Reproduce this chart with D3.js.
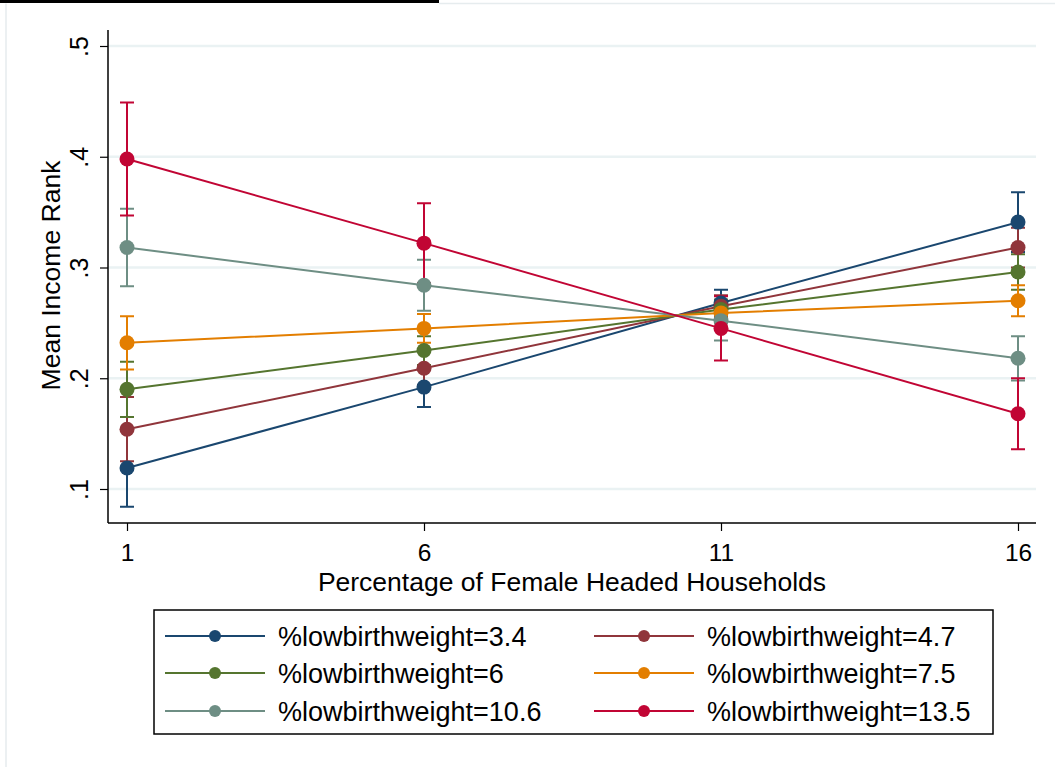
<!DOCTYPE html>
<html>
<head>
<meta charset="utf-8">
<script src="https://cdn.jsdelivr.net/npm/d3@7"></script>
<style>
  body { margin: 0; background: #ffffff; }
  svg { display: block; font-family: "Liberation Sans", Arial, Helvetica, sans-serif; }
</style>
</head>
<body>
<svg id="chart" width="1055" height="767"></svg>
<script>
// margins plot: mean income rank by % female headed households

// x positions (percentage of female headed households)
var femaleHH = [1, 6, 11, 16];

// series labels
var seriesLabels = [
    "%lowbirthweight=3.4",
    "%lowbirthweight=4.7",
    "%lowbirthweight=6",
    "%lowbirthweight=7.5",
    "%lowbirthweight=10.6",
    "%lowbirthweight=13.5"
];

// predicted means, one array per series
var lbw34  = [0.119, 0.192, 0.268, 0.341];
var lbw47  = [0.154, 0.209, 0.265, 0.318];
var lbw6   = [0.190, 0.225, 0.262, 0.296];
var lbw75  = [0.232, 0.245, 0.259, 0.270];
var lbw106 = [0.318, 0.284, 0.252, 0.218];
var lbw135 = [0.398, 0.322, 0.245, 0.168];

// 95% CI half widths
var ci34  = [0.035, 0.018, 0.012, 0.027];
var ci47  = [0.029, 0.015, 0.010, 0.018];
var ci6   = [0.025, 0.013, 0.009, 0.016];
var ci75  = [0.024, 0.013, 0.009, 0.014];
var ci106 = [0.035, 0.023, 0.018, 0.020];
var ci135 = [0.051, 0.036, 0.029, 0.032];

// tick labels
var yTicks = [0.1, 0.2, 0.3, 0.4, 0.5];
var yTickLabels = [".1", ".2", ".3", ".4", ".5"];
var xTicks = [1, 6, 11, 16];

var colors = ["#1a476f", "#90353b", "#55752f", "#e37e00", "#6e8e84", "#c10534"];

var means = [lbw34, lbw47, lbw6, lbw75, lbw106, lbw135];
var cis = [ci34, ci47, ci6, ci75, ci106, ci135];

var series = seriesLabels.map(function(label, i) {
    return {
        label: label,
        color: colors[i],
        pts: femaleHH.map(function(x, j) {
            return { x: x, y: means[i][j], lo: means[i][j] - cis[i][j], hi: means[i][j] + cis[i][j] };
        })
    };
});

var svg = d3.select("#chart");

// plot region
var plot = { left: 108, right: 1036, top: 30, bottom: 523 };

// SCALES
var x = d3.scaleLinear().domain([1, 16]).range([127, 1018]);
var y = d3.scaleLinear().domain([0.1, 0.5]).range([489, 46]);

// outer frame (cropped graph region)
svg.append("rect")
    .attr("x", 0).attr("y", 0)
    .attr("width", 439).attr("height", 3)
    .attr("fill", "#000");
svg.append("path")
    .attr("d", "M439,3.5H1055M6,3.5V767")
    .attr("stroke", "#e6ecee")
    .attr("stroke-width", 1.5)
    .attr("fill", "none");

// GRID
svg.append("g").selectAll("line")
    .data(yTicks)
    .enter().append("line")
    .attr("x1", plot.left).attr("x2", plot.right)
    .attr("y1", d => y(d)).attr("y2", d => y(d))
    .attr("stroke", "#eaf2f3")
    .attr("stroke-width", 2.5);

// AXES
var yAxis = svg.append("g")
    .attr("transform", "translate(" + plot.left + ",0)")
    .call(d3.axisLeft(y).tickValues(yTicks).tickSize(8).tickFormat((d, i) => yTickLabels[i]));
yAxis.select(".domain").attr("d", "M0," + plot.top + "V" + plot.bottom).attr("stroke", "#000").attr("stroke-width", 1.5);
yAxis.selectAll(".tick line").attr("stroke", "#000").attr("stroke-width", 1.2);
yAxis.selectAll(".tick text")
    .attr("font-size", 25)
    .attr("fill", "#000")
    .attr("x", null).attr("dy", null)
    .attr("text-anchor", "middle")
    .attr("transform", "translate(-20,0) rotate(-90)");

var xAxis = svg.append("g")
    .attr("transform", "translate(0," + plot.bottom + ")")
    .call(d3.axisBottom(x).tickValues(xTicks).tickSize(8).tickFormat(d3.format("d")));
xAxis.select(".domain").attr("d", "M" + plot.left + ",0H" + plot.right).attr("stroke", "#000").attr("stroke-width", 1.5);
xAxis.selectAll(".tick line").attr("stroke", "#000").attr("stroke-width", 1.2);
xAxis.selectAll(".tick text")
    .attr("font-size", 24.5)
    .attr("fill", "#000")
    .attr("y", 38).attr("dy", null);

// axis titles
svg.append("text")
    .attr("transform", "translate(60," + ((plot.top + plot.bottom) / 2 - 1) + ") rotate(-90)")
    .attr("text-anchor", "middle")
    .attr("font-size", 26.5)
    .text("Mean Income Rank");

svg.append("text")
    .attr("x", (plot.left + plot.right) / 2)
    .attr("y", 591)
    .attr("text-anchor", "middle")
    .attr("font-size", 26.5)
    .text("Percentage of Female Headed Households");

// CONFIDENCE INTERVALS
var capHalf = 7;
series.forEach(function(s) {
    var g = svg.append("g").attr("stroke", s.color).attr("stroke-width", 2).attr("fill", "none");
    g.selectAll("path")
        .data(s.pts)
        .enter().append("path")
        .attr("d", function(d) {
            var cx = x(d.x), y0 = y(d.lo), y1 = y(d.hi);
            return "M" + cx + "," + y0 + "V" + y1 +
                "M" + (cx - capHalf) + "," + y0 + "H" + (cx + capHalf) +
                "M" + (cx - capHalf) + "," + y1 + "H" + (cx + capHalf);
        });
});

// LINES AND MARKERS
var line = d3.line().x(d => x(d.x)).y(d => y(d.y));
series.forEach(function(s) {
    svg.append("path")
        .datum(s.pts)
        .attr("d", line)
        .attr("stroke", s.color)
        .attr("stroke-width", 2)
        .attr("fill", "none");
    svg.append("g").selectAll("circle")
        .data(s.pts)
        .enter().append("circle")
        .attr("cx", d => x(d.x))
        .attr("cy", d => y(d.y))
        .attr("r", 7.5)
        .attr("fill", s.color);
});

// LEGEND
var legend = svg.append("g");
legend.append("rect")
    .attr("x", 154).attr("y", 610)
    .attr("width", 839).attr("height", 124)
    .attr("fill", "#fff")
    .attr("stroke", "#000")
    .attr("stroke-width", 1.5);

var colX = [165, 594];
var rowY = [636, 673, 711];
series.forEach(function(s, i) {
    var lx = colX[i % 2], ly = rowY[Math.floor(i / 2)];
    legend.append("line")
        .attr("x1", lx).attr("x2", lx + 100)
        .attr("y1", ly).attr("y2", ly)
        .attr("stroke", s.color)
        .attr("stroke-width", 2);
    legend.append("circle")
        .attr("cx", lx + 50).attr("cy", ly)
        .attr("r", 6)
        .attr("fill", s.color);
    legend.append("text")
        .attr("x", lx + 113).attr("y", ly + 9.5)
        .attr("font-size", 27)
        .text(s.label);
});
</script>
</body>
</html>
